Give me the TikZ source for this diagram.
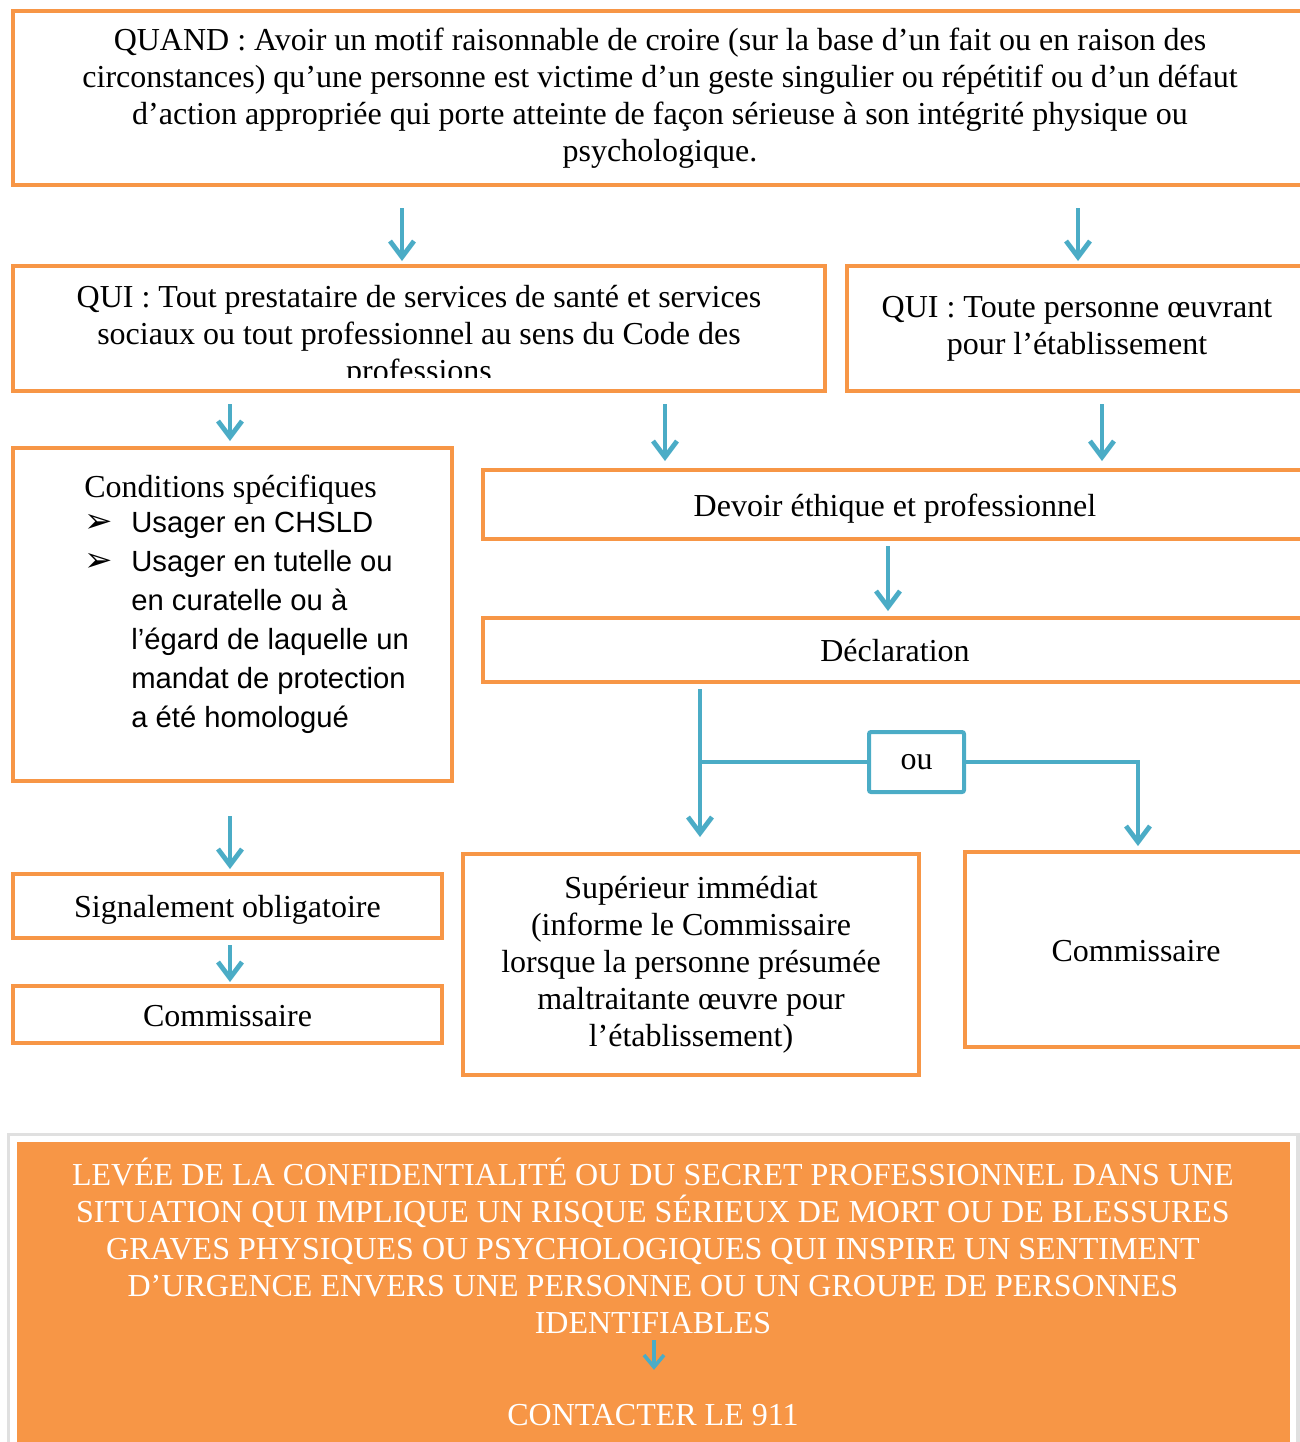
\documentclass[tikz,border=0pt]{standalone}
\usepackage{fontspec}
\setmainfont{Liberation Serif}
\newfontfamily\arialf{Liberation Sans}
\newfontfamily\dejavu{DejaVu Sans}
\usepackage{tikz}
\usetikzlibrary{calc}
\usetikzlibrary{arrows.meta}
\definecolor{orbox}{HTML}{F79646}
\definecolor{blarr}{HTML}{4BACC6}
\newcommand{\tnr}{\rmfamily\fontsize{16}{18.5}\selectfont}
\newcommand{\bul}{{\dejavu\fontsize{17}{17}\selectfont ➢}}
\tikzset{box/.style={draw=orbox, line width=2pt, inner sep=0pt, align=center, font=\tnr}}
\tikzset{oneline/.style={text height=15pt, text depth=3.5pt}}
\tikzset{txt/.style={inner sep=0pt, align=center, font=\tnr}}
\tikzset{arr/.style={draw=blarr, line width=2.4pt, -{Straight Barb[length=8pt,width=12pt]}}}
\tikzset{bline/.style={draw=blarr, line width=2pt}}

\begin{document}
\begin{tikzpicture}[x=0.5pt,y=-0.5pt]
  \clip (0,0) rectangle (1300,1442);
  \node[box, minimum width=647pt, minimum height=87pt] (quand) at (660,98) {%
    QUAND : Avoir un motif raisonnable de croire (sur la base d’un fait ou en raison des\\
    circonstances) qu’une personne est victime d’un geste singulier ou répétitif ou d’un défaut\\
    d’action appropriée qui porte atteinte de façon sérieuse à son intégrité physique ou\\
    psychologique.};
  \node[box, minimum width=406pt, minimum height=62.5pt] (qui1) at (419,328.5) {};
  \begin{scope}
    \clip (qui1.north west) rectangle (qui1.east |- 0,377);
    \node[txt] (qui1txt) at (419,337) {QUI : Tout prestataire de services de santé et services\\
      sociaux ou tout professionnel au sens du Code des\\ professions};
  \end{scope}
  \node[box, minimum width=230pt, minimum height=62.5pt] (qui2) at (1077,328.5)
    {QUI : Toute personne œuvrant\\ pour l’établissement};
  \node[box, minimum width=219.5pt, minimum height=166.5pt] (cond) at (232.5,614.5) {};
  \node[inner sep=0pt, anchor=north west, font=\arialf\fontsize{14.6}{19.5}\selectfont]
    (condtxt) at (84,470) {%
    \begin{tabular}{@{}l@{}l@{}}
      \multicolumn{2}{@{}l@{}}{\tnr Conditions spécifiques}\\[-2pt]
      \makebox[23.5pt][l]{\bul} & Usager en CHSLD\\
      \makebox[23.5pt][l]{\bul} & Usager en tutelle ou\\
      & en curatelle ou à\\
      & l’égard de laquelle un\\
      & mandat de protection\\
      & a été homologué
    \end{tabular}};
  \node[box, oneline, minimum width=412pt, minimum height=34.5pt] (devoir) at (895,504.5)
    {Devoir éthique et professionnel};
  \node[box, oneline, minimum width=412pt, minimum height=32pt] (decl) at (895,650) {Déclaration};
  \node[box, draw=blarr, rounded corners=1pt, minimum width=47.5pt, minimum height=30pt]
    (ou) at (916.5,762) {ou};
  \node[box, oneline, minimum width=214.5pt, minimum height=32pt] (signal) at (227.5,906)
    {Signalement obligatoire};
  \node[box, oneline, minimum width=214.5pt, minimum height=28.5pt] (comm1) at (227.5,1014.5)
    {Commissaire};
  \node[box, minimum width=228pt, minimum height=110.5pt] (sup) at (691,964.5)
    {Supérieur immédiat\\ (informe le Commissaire\\ lorsque la personne présumée\\
     maltraitante œuvre pour\\ l’établissement)};
  \node[box, oneline, minimum width=171pt, minimum height=97.5pt] (comm2) at (1136,949.5)
    {Commissaire};

  \foreach \from/\to/\xx/\s/\e in {
    quand/qui1/402/10.5pt/1.5pt,
    quand/qui2/1078/10.5pt/1.5pt,
    qui1/cond/230/5.5pt/2.5pt,
    qui1/devoir/665/5.5pt/3.5pt,
    qui2/devoir/1102/5.5pt/3.5pt,
    devoir/decl/888/2.5pt/2.5pt,
    cond/signal/230/16.5pt/1.5pt,
    signal/comm1/230/2.5pt/1pt%
  }{
    \draw[arr, shorten <=\s, shorten >=\e] (\from.south -| \xx,0) -- (\to.north -| \xx,0);
  }
  \coordinate (fork) at (700,762);
  \draw[arr, shorten <=2.5pt, shorten >=7.5pt] (decl.south -| fork) -- (sup.north -| fork);
  \draw[bline] (ou.west) -- (fork);
  \draw[arr, line join=miter, shorten >=2pt] (ou.east) -| (comm2.north -| 1138,0);

  \fill[black!12] (7,1133) rectangle (1300,1450);
  \fill[white] (10,1136) rectangle (1296,1450);
  \fill[orbox] (17,1142) rectangle (1290,1450);
  \node[txt, text=white] (levee) at (653,1246) {%
    LEVÉE DE LA CONFIDENTIALITÉ OU DU SECRET PROFESSIONNEL DANS UNE\\
    SITUATION QUI IMPLIQUE UN RISQUE SÉRIEUX DE MORT OU DE BLESSURES\\
    GRAVES PHYSIQUES OU PSYCHOLOGIQUES QUI INSPIRE UN SENTIMENT\\
    D’URGENCE ENVERS UNE PERSONNE OU UN GROUPE DE PERSONNES\\
    IDENTIFIABLES};
  \node[txt, text=white] (appel) at (653,1415) {CONTACTER LE 911};
  \draw[arr, line width=1.8pt, -{Straight Barb[length=6pt,width=10pt]}, shorten <=3pt, shorten >=17pt]
    (levee.south -| 654,0) -- (appel.north -| 654,0);
\end{tikzpicture}
\end{document}
